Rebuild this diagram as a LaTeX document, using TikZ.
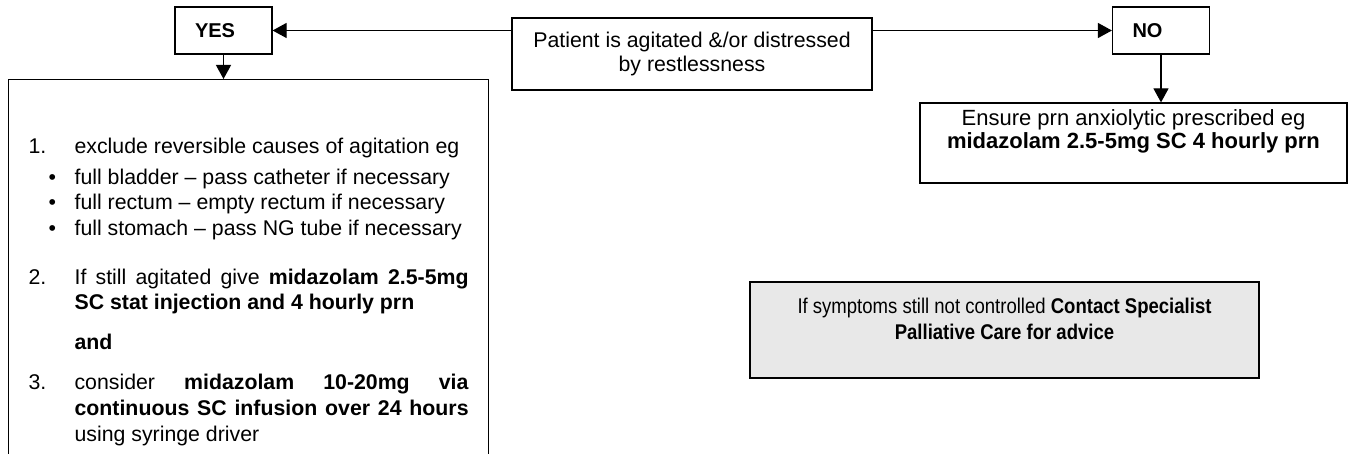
\documentclass[tikz,border=0pt]{standalone}
\usepackage{fontspec}
\setmainfont{Liberation Sans}
\usetikzlibrary{arrows.meta}

\definecolor{advicegrey}{HTML}{E8E8E8}

% boxes whose text sits at the top
\newcommand{\topbox}[4]{\begin{minipage}[c][#1][t]{#2}\centering\vspace*{#3}#4\end{minipage}}
% numbered and bulleted lines of the left box
\newcommand{\numitem}[2]{\par\hangindent=23pt\hangafter=1\noindent\makebox[23pt][l]{#1}#2\par}
\newcommand{\bulletitem}[1]{\par\noindent\hspace*{10pt}\makebox[13pt][l]{\textbullet}#1\par}

\tikzset{
  box/.style={draw, line width=0.6pt, inner sep=0pt},
  answer/.style={box, font=\bfseries, text width=28.5pt, minimum height=23.5pt, inner xsep=10pt, align=left},
  flow/.style={-{Triangle[length=7pt,width=7.5pt]}, line width=0.6pt}
}

\begin{document}
\begin{tikzpicture}[x=0.5pt, y=-0.5pt, font=\fontsize{10.65}{12}\selectfont]
  \clip (0,0) rectangle (1356,454);

  \node[box, align=center, minimum width=180pt, minimum height=36pt] (patient) at (692,54)
    {Patient is agitated \&/or distressed\\by restlessness};
  \node[answer] (yes) at (223.5,30.5) {YES};
  \node[answer] (no) at (1161,30.5) {NO};

  \draw[flow] (patient.west |- yes.east) -- (yes.east);
  \draw[flow] (patient.east |- no.west) -- (no.west);

  % left: what to do when agitated
  \node[box, inner xsep=10pt, anchor=north west] (causes) at (8,79) {%
    \begin{minipage}[c][200pt][t]{220pt}
      \setlength{\parindent}{0pt}\hyphenpenalty=10000
      \baselineskip=12.8pt
      \vspace*{29pt}
      \numitem{1.}{exclude reversible causes of agitation eg}
      \vspace{2.7pt}
      \bulletitem{full bladder -- pass catheter if necessary}
      \bulletitem{full rectum -- empty rectum if necessary}
      \bulletitem{full stomach -- pass NG tube if necessary}
      \vspace{11.7pt}
      \numitem{2.}{If still agitated give \textbf{midazolam 2.5-5mg}\linebreak
        \textbf{SC stat injection and 4 hourly prn}}
      \vspace{7.2pt}
      \numitem{}{\textbf{and}}
      \vspace{7.2pt}
      \numitem{3.}{consider \textbf{midazolam 10-20mg via}\linebreak
        \textbf{continuous SC infusion over 24 hours}\linebreak
        using syringe driver}
    \end{minipage}};
  \draw[flow] (yes.south) -- (yes.south |- causes.north);

  % right: prn cover
  \node[box, font=\fontsize{11}{11.5}\selectfont] (ensure) at (1133.5,143) {\topbox{40pt}{213.5pt}{3.5pt}{%
    Ensure prn anxiolytic prescribed eg\\
    \textbf{midazolam 2.5-5mg SC 4 hourly prn}}};
  \draw[flow] (no.south) -- (no.south |- ensure.north);

  \node[box, fill=advicegrey] (advice) at (1004.5,330) {\topbox{48pt}{254.5pt}{8pt}{%
    \baselineskip=13pt
    \scalebox{0.87}[1]{If symptoms still not controlled \textbf{Contact Specialist}}\\
    \scalebox{0.87}[1]{\textbf{Palliative Care for advice}}}};
\end{tikzpicture}
\end{document}
